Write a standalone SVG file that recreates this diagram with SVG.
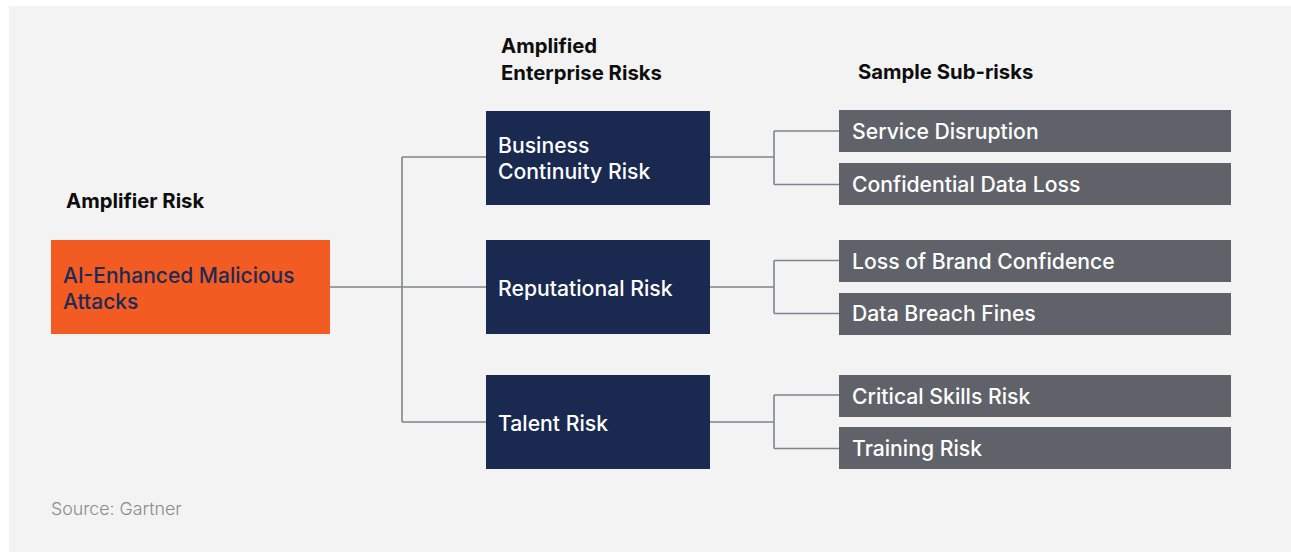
<svg xmlns="http://www.w3.org/2000/svg" width="1291" height="552" viewBox="0 0 1291 552">
<style>
.hdr{font-family:Inter,"Liberation Sans",sans-serif;font-weight:700;font-size:20.3px;fill:#0d0d0d}
.lbl{font-family:Inter,"Liberation Sans",sans-serif;font-weight:500;font-size:21.2px;fill:#ffffff}
.org{font-family:Inter,"Liberation Sans",sans-serif;font-weight:500;font-size:21px;fill:#1c2a55}
.src{font-family:Inter,"Liberation Sans",sans-serif;font-weight:300;font-size:17.8px;fill:#8a8b8e}
.navy{fill:#1a2950}
.gray{fill:#5f6369}
.conn{fill:none;stroke:#80848a;stroke-width:1.6}
</style>
<rect x="0" y="0" width="1291" height="552" fill="#ffffff"/>
<rect x="9" y="6" width="1282" height="546" fill="#f3f3f3"/>
<g id="headers">
<text class="hdr" x="66" y="208" font-size="21.6">Amplifier Risk</text>
<text class="hdr" x="501" y="53">Amplified</text>
<text class="hdr" x="501" y="80">Enterprise Risks</text>
<text class="hdr" x="858" y="79">Sample Sub-risks</text>
</g>
<g id="connectors">
<path class="conn" d="M330 287H486M402 157V422M402 157H486M402 422H486"/>
<path class="conn" d="M710 157H774M774 131V184.5M774 131H839M774 184.5H839"/>
<path class="conn" d="M710 287H774M774 260.5V313.5M774 260.5H839M774 313.5H839"/>
<path class="conn" d="M710 422H774M774 395V448.5M774 395H839M774 448.5H839"/>
</g>
<g id="amplifier">
<rect x="51" y="240" width="279" height="94" fill="#f25c22"/>
<text class="org" x="63" y="283">AI-Enhanced Malicious</text>
<text class="org" x="63" y="309">Attacks</text>
</g>
<g id="business-continuity">
<rect class="navy" x="486" y="111" width="224" height="94"/>
<text class="lbl" x="498" y="153">Business</text>
<text class="lbl" x="498" y="179">Continuity Risk</text>
</g>
<g id="reputational">
<rect class="navy" x="486" y="240" width="224" height="94"/>
<text class="lbl" x="498" y="296">Reputational Risk</text>
</g>
<g id="talent">
<rect class="navy" x="486" y="375" width="224" height="94"/>
<text class="lbl" x="498" y="431">Talent Risk</text>
</g>
<g id="service-disruption">
<rect class="gray" x="839" y="110" width="392" height="42"/>
<text class="lbl" x="852" y="139">Service Disruption</text>
</g>
<g id="confidential-data-loss">
<rect class="gray" x="839" y="163" width="392" height="42"/>
<text class="lbl" x="852" y="192">Confidential Data Loss</text>
</g>
<g id="loss-of-brand-confidence">
<rect class="gray" x="839" y="240" width="392" height="42"/>
<text class="lbl" x="852" y="269">Loss of Brand Confidence</text>
</g>
<g id="data-breach-fines">
<rect class="gray" x="839" y="293" width="392" height="42"/>
<text class="lbl" x="852" y="321">Data Breach Fines</text>
</g>
<g id="critical-skills-risk">
<rect class="gray" x="839" y="375" width="392" height="42"/>
<text class="lbl" x="852" y="404">Critical Skills Risk</text>
</g>
<g id="training-risk">
<rect class="gray" x="839" y="427" width="392" height="42"/>
<text class="lbl" x="852" y="456">Training Risk</text>
</g>
<text class="src" x="51" y="515">Source: Gartner</text>
</svg>
